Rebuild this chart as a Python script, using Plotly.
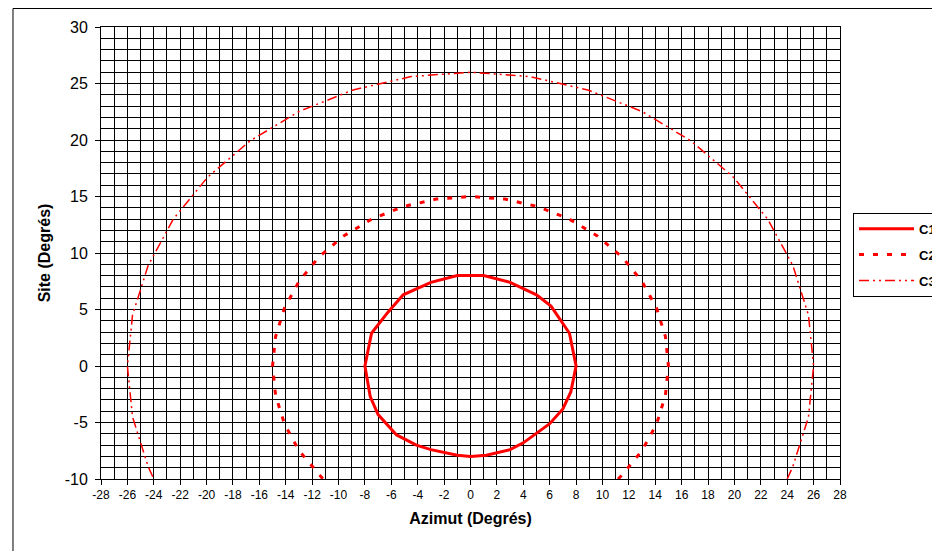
import plotly.graph_objects as go

# ---- data ----
c1_x = [0, 1, 3, 5, 6.1, 7, 7.5, 8, 7.6, 7, 6, 4, 3, 1.2, 0, -1, -3, -4.1, -5.6, -7, -7.6, -8, -7.5, -6.3, -5.1, -3, -1, 0]
c1_y = [8, 8, 7.4, 6.3, 5.3, 3.8, 2.9, 0, -2.3, -3.8, -5.1, -6.8, -7.4, -7.9, -8, -7.9, -7.4, -7, -6.1, -4.3, -2.7, 0, 2.9, 4.7, 6.3, 7.4, 8, 8]

c2_x = [11.18, 11.49, 12.99, 14.10, 14.77, 15, 14.77, 14.10, 12.99, 11.49, 9.64, 7.5, 5.13, 2.60, 0,
        -2.60, -5.13, -7.5, -9.64, -11.49, -12.99, -14.10, -14.77, -15, -14.77, -14.10, -12.99, -11.49, -11.18]
c2_y = [-10, -9.64, -7.5, -5.13, -2.60, 0, 2.60, 5.13, 7.5, 9.64, 11.49, 12.99, 14.10, 14.77, 15,
        14.77, 14.10, 12.99, 11.49, 9.64, 7.5, 5.13, 2.60, 0, -2.60, -5.13, -7.5, -9.64, -10]

c3_x = [24, 24.43, 25.61, 26, 25.61, 24.43, 22.52, 19.92, 16.71, 13, 8.89, 4.51, 0,
        -4.51, -8.89, -13, -16.71, -19.92, -22.52, -24.43, -25.61, -26, -25.61, -24.43, -24]
c3_y = [-10, -8.89, -4.51, 0, 4.51, 8.89, 13, 16.71, 19.92, 22.52, 24.43, 25.61, 26,
        25.61, 24.43, 22.52, 19.92, 16.71, 13, 8.89, 4.51, 0, -4.51, -8.89, -10]

series_names = ["C1", "C2", "C3"]

x_tick_vals = list(range(-28, 29, 2))
x_tick_labels = [str(v) for v in x_tick_vals]
y_tick_vals = [-10, -5, 0, 5, 10, 15, 20, 25, 30]
y_tick_labels = [str(v) for v in y_tick_vals]

FONT = "Liberation Sans, Arial, sans-serif"
RED = "#FF0000"

fig = go.Figure()
fig.add_trace(go.Scatter(x=c1_x, y=c1_y, mode="lines", name=series_names[0], legendgroup="g1",
                         line=dict(color=RED, width=3)))
fig.add_trace(go.Scatter(x=c2_x, y=c2_y, mode="lines", name=series_names[1], legendgroup="g2",
                         line=dict(color=RED, width=3, dash="5px,9px")))
fig.add_trace(go.Scatter(x=c3_x, y=c3_y, mode="lines", name=series_names[2], legendgroup="g3",
                         line=dict(color=RED, width=1.5, dash="10px,4px,2px,4px,2px,4px")))

axis_common = dict(
    showgrid=True, gridcolor="#000000", gridwidth=1,
    showline=True, linecolor="#000000", linewidth=1, mirror=True,
    ticks="outside", ticklen=5, tickcolor="#000000",
    zeroline=False,
)

fig.update_xaxes(
    range=[-28, 28], tickmode="array", tickvals=x_tick_vals, ticktext=x_tick_labels,
    tickfont=dict(family=FONT, size=12, color="#000000"),
    minor=dict(dtick=1, showgrid=True, gridcolor="#000000", gridwidth=1, ticks=""),
    title=dict(text="<b>Azimut (Degrés)</b>", font=dict(family=FONT, size=16, color="#000000"), standoff=11),
    **axis_common,
)
fig.update_yaxes(
    range=[-10, 30], tickmode="array", tickvals=y_tick_vals, ticktext=y_tick_labels,
    tickfont=dict(family=FONT, size=16, color="#000000"),
    ticklabelstandoff=4,
    minor=dict(dtick=1, tick0=0, showgrid=True, gridcolor="#000000", gridwidth=1, ticks=""),
    title=dict(text="<b>Site (Degrés)</b>", font=dict(family=FONT, size=16, color="#000000"), standoff=10),
    **axis_common,
)

# the page body adds an 8px offset; the figure is sized to fill the remaining window
fig.update_layout(
    width=932, height=543,
    margin=dict(l=93, r=100, t=19, b=72, autoexpand=False),
    paper_bgcolor="#FFFFFF", plot_bgcolor="#FFFFFF",
    font=dict(family=FONT, size=12, color="#000000"),
    showlegend=True,
    legend=dict(
        x=1.0176, y=0.589, xanchor="left", yanchor="top",
        bgcolor="#FFFFFF", bordercolor="#000000", borderwidth=1,
        font=dict(family=FONT, size=13, color="#000000", weight="bold"),
        itemwidth=55, tracegroupgap=6, traceorder="grouped",
    ),
    shapes=[dict(type="rect", xref="paper", yref="paper",
                 x0=-0.1191, y0=-0.25, x1=1.2, y1=1.0409,
                 line=dict(color="#000000", width=1), fillcolor="rgba(0,0,0,0)", layer="below")],
)

fig.write_html("out.html")
